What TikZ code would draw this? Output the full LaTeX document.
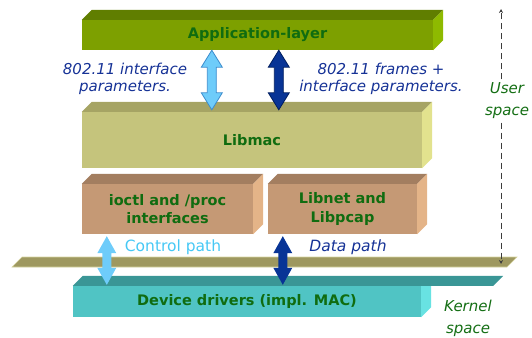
\documentclass[tikz,border=0pt]{standalone}
\usepackage{fontspec}
\setmainfont{DejaVu Sans}
\usetikzlibrary{calc,arrows.meta}

\definecolor{appF}{RGB}{125,160,0}
\definecolor{appT}{RGB}{96,126,0}
\definecolor{appS}{RGB}{142,186,0}
\definecolor{macF}{RGB}{197,196,124}
\definecolor{macT}{RGB}{166,164,100}
\definecolor{macS}{RGB}{226,226,142}
\definecolor{tanF}{RGB}{197,153,117}
\definecolor{tanT}{RGB}{163,126,96}
\definecolor{tanS}{RGB}{228,180,136}
\definecolor{devF}{RGB}{80,196,196}
\definecolor{devT}{RGB}{58,150,150}
\definecolor{devS}{RGB}{104,226,226}
\definecolor{planeF}{RGB}{158,152,96}
\definecolor{planeE}{RGB}{214,212,160}
\definecolor{boxtext}{RGB}{16,108,16}
\definecolor{navy}{RGB}{22,50,150}
\definecolor{navyA}{RGB}{8,52,150}
\definecolor{navyE}{RGB}{0,30,95}
\definecolor{skyA}{RGB}{110,204,250}
\definecolor{skyE}{RGB}{60,140,205}
\definecolor{skyT}{RGB}{70,200,245}
\definecolor{spacetext}{RGB}{20,110,20}
\definecolor{dashc}{RGB}{60,60,60}

% top and right faces of a slab whose front face is node #1
\newcommand\slabfaces[4]{%
  \fill[#2] (#1.north west) -- ++(#4,-#4) -- ($(#1.north east)+(#4,-#4)$) -- (#1.north east) -- cycle;
  \fill[#3] (#1.north east) -- ++(#4,-#4) -- ($(#1.south east)+(#4,-#4)$) -- (#1.south east) -- cycle;}

% vertical double-headed block arrow from #2 (top) to #3 (bottom), head half-width #4
\newcommand\blockarrow[4]{%
  \path[#1] let \p1=(#2), \p2=(#3) in
    (\x1,\y1) -- (\x1+#4,\y1-17pt) -- (\x1+4.5pt,\y1-17pt) -- (\x1+4.5pt,\y2+17pt)
    -- (\x1+#4,\y2+17pt) -- (\x1,\y2) -- (\x1-#4,\y2+17pt) -- (\x1-4.5pt,\y2+17pt)
    -- (\x1-4.5pt,\y1-17pt) -- (\x1-#4,\y1-17pt) -- cycle;}

\begin{document}
\begin{tikzpicture}[x=1pt,y=-1pt,
  face/.style={inner sep=0pt, align=center, text=boxtext,
    font=\fontsize{14.5}{18.5}\selectfont\bfseries},
  lbl/.style={align=center, text=navy, font=\fontsize{15}{17}\selectfont\itshape},
  spacelbl/.style={align=center, text=spacetext, font=\fontsize{15}{22}\selectfont\itshape},
  dashline/.style={draw=dashc, line width=1pt, dash pattern=on 6pt off 4pt,
    -{Stealth[length=4pt,width=4pt]}}]
\useasboundingbox (0,0) rectangle (532,337);

% application layer
\node[face, fill=appF, minimum width=351pt, minimum height=30pt] (app) at (257.5,35) {Application-layer};
\slabfaces{app}{appT}{appS}{10}

% libmac
\node[face, fill=macF, minimum width=340pt, minimum height=56pt] (libmac) at (252,140) {Libmac};
\slabfaces{libmac}{macT}{macS}{10}

% ioctl and libnet
\node[face, fill=tanF, minimum width=171pt, minimum height=50pt] (ioctl) at (167.5,209) {ioctl and /proc\\interfaces};
\slabfaces{ioctl}{tanT}{tanS}{10}
\node[face, fill=tanF, minimum width=149pt, minimum height=50pt] (libnet) at (342.5,209) {Libnet and\\Libpcap};
\slabfaces{libnet}{tanT}{tanS}{10}

% user / kernel boundary plane
\filldraw[fill=planeF, draw=planeE, line width=0.6pt] (12,267) -- (22,257) -- (517,257) -- (507,267) -- cycle;

% device drivers
\node[face, fill=devF, minimum width=348pt, minimum height=31pt] (dev) at (247,301.5) {Device drivers (impl. MAC)};
\fill[devS] (dev.north east) -- ++(10,-10) -- ($(dev.south east)+(10,-10)$) -- (dev.south east) -- cycle;
\fill[devT] (dev.north west) -- ++(10,-10) -- ($(dev.north east)+(82,-10)$) -- ($(dev.north east)+(72,0)$) -- cycle;

% arrow end points
\coordinate (aL1) at ($(app.south west)+(130,0)$);
\coordinate (aL2) at ($(libmac.north west)+(130,-2)$);
\coordinate (aD1) at ($(app.south west)+(197,0)$);
\coordinate (aD2) at ($(libmac.north west)+(197,-2)$);
\coordinate (bL1) at ($(ioctl.south west)+(25,2)$);
\coordinate (bL2) at ($(dev.north west)+(34,-1)$);
\coordinate (bD1) at ($(libnet.south west)+(15,2)$);
\coordinate (bD2) at ($(dev.north west)+(210,-1)$);

\blockarrow{fill=skyA, draw=skyE, line width=0.8pt}{aL1}{aL2}{10.5pt}
\blockarrow{fill=navyA, draw=navyE, line width=0.8pt}{aD1}{aD2}{10.5pt}
\blockarrow{fill=skyA}{bL1}{bL2}{9.5pt}
\blockarrow{fill=navyA}{bD1}{bD2}{9.5pt}

% labels
\node[lbl] (lp) at (125,79) {802.11 interface\\parameters.};
\node[lbl] (rp) at (381,79) {802.11 frames +\\interface parameters.};
\node[font=\fontsize{15.5}{17}\selectfont, text=skyT] (cp) at (173,247) {Control path};
\node[font=\fontsize{15.5}{17}\selectfont\itshape, text=navy] (dp) at (348,247) {Data path};
\node[spacelbl] (us) at (507,101) {User\\space};
\node[spacelbl] (ks) at (468,318) {Kernel\\space};

% user-space / kernel-space extent
\coordinate (uTop) at (501,9);
\coordinate (uBot) at (501,264);
\draw[dashline] (us.north -| uTop) -- (uTop);
\draw[dashline] (us.south -| uTop) -- (uBot);
\end{tikzpicture}
\end{document}
